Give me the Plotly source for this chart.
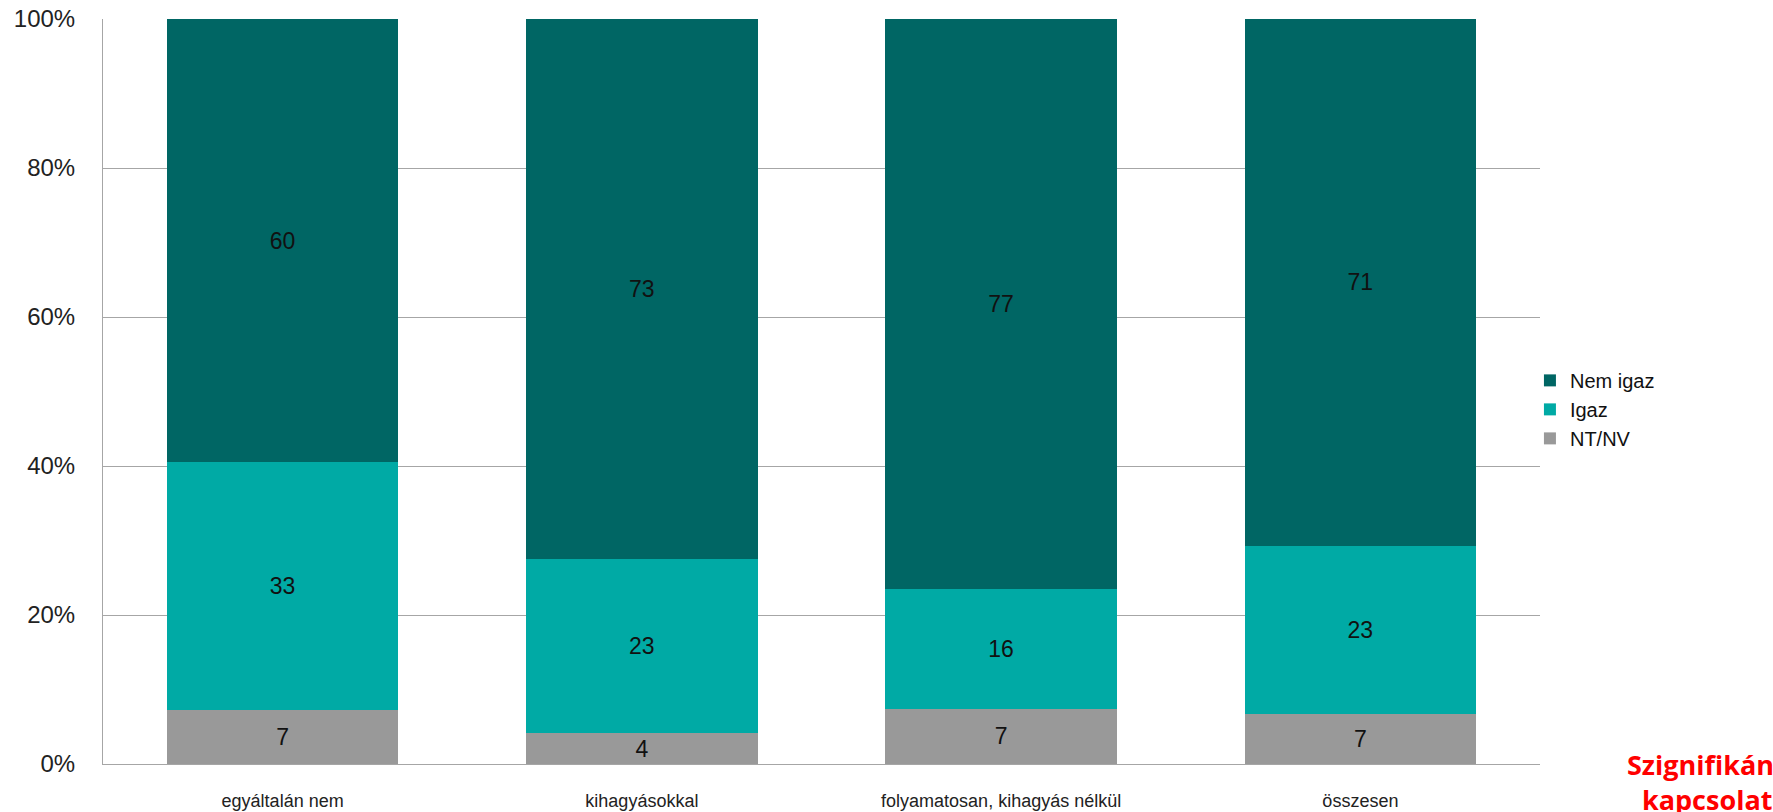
import plotly.graph_objects as go

categories = ["egyáltalán nem", "kihagyásokkal", "folyamatosan, kihagyás nélkül", "összesen"]
nt_nv = [7.3, 4.1, 7.4, 6.7]
igaz = [33.2, 23.4, 16.1, 22.6]
nem_igaz = [59.5, 72.5, 76.5, 70.7]
y_ticks = [0, 20, 40, 60, 80, 100]
y_tick_labels = ["0%", "20%", "40%", "60%", "80%", "100%"]

FONT = "Liberation Sans, Arial, sans-serif"

fig = go.Figure()
series = [
    ("NT/NV", nt_nv, "#999999"),
    ("Igaz", igaz, "#00aaa5"),
    ("Nem igaz", nem_igaz, "#006664"),
]
for name, vals, col in series:
    fig.add_trace(go.Bar(
        x=categories, y=vals, name=name,
        marker=dict(color=col, line=dict(width=0)),
        texttemplate="%{y:.0f}", textposition="inside",
        insidetextanchor="middle", constraintext="none",
        textfont=dict(family=FONT, size=23, color="#111111"),
        textangle=0,
    ))

fig.update_layout(
    barmode="stack",
    bargap=0.355,
    width=1773, height=812,
    margin=dict(l=103, r=233, t=19, b=48, autoexpand=False),
    paper_bgcolor="white", plot_bgcolor="white",
    showlegend=True,
    legend=dict(
        x=0.993, y=0.476, xanchor="left", yanchor="middle",
        traceorder="reversed", bgcolor="rgba(0,0,0,0)",
        font=dict(family=FONT, size=20, color="#111111"),
        itemwidth=30, tracegroupgap=0,
    ),
    uniformtext=dict(mode=False),
    font=dict(family=FONT),
)
fig.update_yaxes(
    range=[0, 100], tickvals=y_ticks, ticktext=y_tick_labels,
    showgrid=True, gridcolor="#a6a6a6", gridwidth=1,
    showline=True, linecolor="#a6a6a6", linewidth=1,
    ticks="", ticklabelstandoff=22, automargin=False,
    tickfont=dict(family=FONT, size=24, color="#222222"),
    zeroline=False,
)
fig.update_xaxes(
    showline=True, linecolor="#a6a6a6", linewidth=1,
    ticks="", ticklabelstandoff=20, automargin=False,
    tickfont=dict(family=FONT, size=18, color="#222222"),
)
fig.add_annotation(
    xref="paper", yref="paper", x=1.0, y=0.0,
    xshift=167, yshift=-18,
    xanchor="center", yanchor="middle",
    text="<b>Szignifikáns<br>kapcsolat</b>",
    showarrow=False, align="center",
    font=dict(family="Open Sans, Liberation Sans, sans-serif", size=27, color="#ff0000"),
)

fig.write_html("out.html")
